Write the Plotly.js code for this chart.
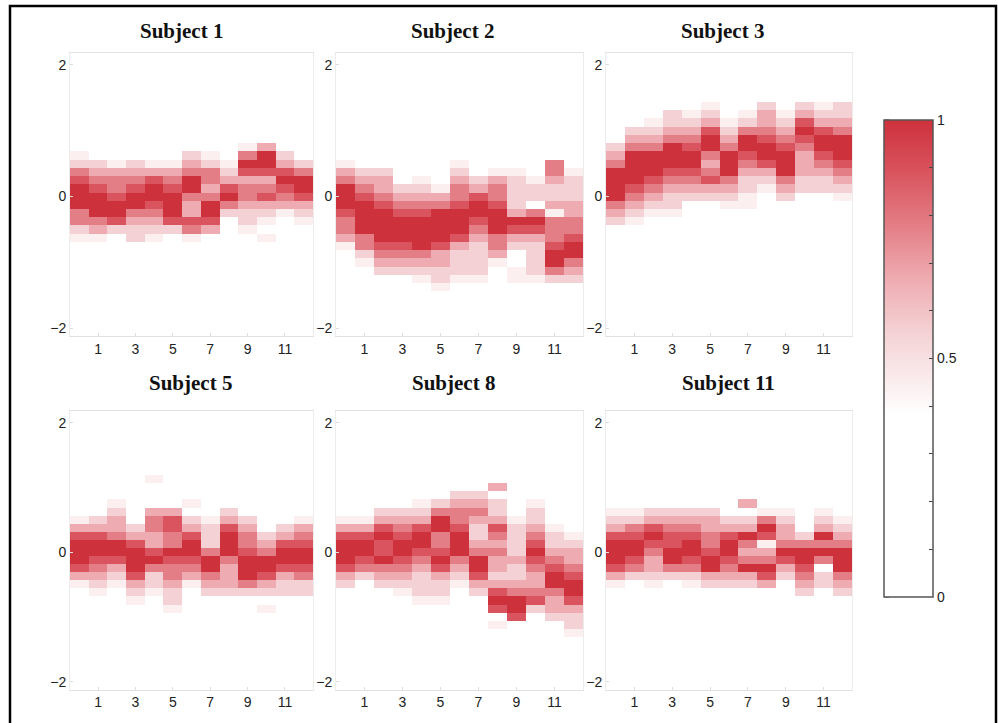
<!DOCTYPE html>
<html>
<head>
<meta charset="utf-8">
<script src="https://cdn.plot.ly/plotly-3.0.1.min.js"></script>
<style>
  html, body { margin: 0; padding: 0; background: #fff; }
  #chart { width: 998px; height: 723px; }
</style>
</head>
<body>
<div id="chart"></div>
<script>
// ---------- DATA ----------
const xCols = [0, 1, 2, 3, 4, 5, 6, 7, 8, 9, 10, 11, 12];
const yBins = [-1.5, -1.375, -1.25, -1.125, -1, -0.875, -0.75, -0.625, -0.5, -0.375, -0.25, -0.125,
               0, 0.125, 0.25, 0.375, 0.5, 0.625, 0.75, 0.875, 1, 1.125, 1.25, 1.375, 1.5];
const xTickVals = [1, 3, 5, 7, 9, 11];
const yTickVals = [-2, 0, 2];
const cbTickVals = [0, 0.1, 0.2, 0.3, 0.4, 0.5, 0.6, 0.7, 0.8, 0.9, 1];
const cbTickText = ['0', '', '', '', '', '0.5', '', '', '', '', '1'];
const titles = ['Subject 1', 'Subject 2', 'Subject 3', 'Subject 5', 'Subject 8', 'Subject 11'];

// Each column: [first row counted from the top (y = 1.5), intensity digits top->bottom, value = digit/9]
const subject1 = [
  [7, '45789997754'], [8, '5678999764'], [8, '467789985'], [8, '5678997655'],
  [8, '4689987654'], [8, '467899985'], [7, '56799766874'], [7, '4577679986'],
  [8, '4568975'], [6, '47986776554'], [6, '699867865404'], [7, '56898764'],
  [8, '57998654']
];
const subject2 = [
  [8, '46799987764'], [9, '567899997754'], [9, '5667899998765'], [11, '56789998765'],
  [10, '4567899997654'], [11, '4679999866554'], [8, '456778999865554'], [10, '5689987655554'],
  [9, '467789997764'], [9, '45555698650044'], [10, '4553798655554'], [8, '776556477789975'],
  [9, '45556677899765']
];
const subject3 = [
  [6, '5679999765'], [4, '567999987654'], [3, '456799987654'], [2, '5567999876554'],
  [2, '45678998765'], [1, '456899767865'], [3, '45679997654'], [2, '457998765544'],
  [1, '56678998654'], [2, '45678999765'], [1, '56898766655'], [1, '45689987655'],
  [1, '556799987654']
];
const subject5 = [
  [8, '468999864'], [8, '5689987654'], [6, '45667998654'], [9, '5689998654'],
  [3, '400067766897554'], [7, '6887798776554'], [6, '40568998764'], [8, '4555799765'],
  [7, '56899976665'], [8, '5677899975'], [10, '5679986504'], [9, '568998655'],
  [8, '4678998755']
];
const subject8 = [
  [8, '468999865'], [8, '46899875'], [7, '5689889765'], [7, '56789987654'],
  [6, '4568998765554'], [6, '5799778986554'], [5, '567789997654'], [5, '5676556799865'],
  [4, '635568767665689804'], [8, '4555565567998'], [6, '45567898766785'], [9, '455678997665'],
  [10, '4566789986554']
];
const subject11 = [
  [7, '4568999864'], [7, '457899875'], [7, '5689876654'], [7, '567889975'],
  [7, '5678998754'], [7, '5667789965'], [8, '568998765'], [6, '60569767965'],
  [7, '4798467986'], [7, '456679865'], [10, '57998765'], [7, '4569797355'],
  [8, '4567999765']
];
const subjects = [subject1, subject2, subject3, subject5, subject8, subject11];

// ---------- BUILD ----------
function buildZ(cols) {
  const z = yBins.map(() => xCols.map(() => 0));
  cols.forEach(([start, digits], c) => {
    for (let k = 0; k < digits.length; k++) {
      const r = start + k;
      const i = yBins.length - 1 - r;
      if (i >= 0) z[i][c] = Number(digits[k]) / 9;
    }
  });
  return z;
}

const W = 998, H = 723;
const px = v => v / W;
const py = v => 1 - v / H;

const colDomains = [[px(70), px(313)], [px(336), px(583)], [px(606), px(852)]];
const rowDomains = [[py(336), py(53)], [py(689.5), py(411)]];
const titlePos = [[181, 31], [452, 31], [722, 31], [190, 383], [453, 383], [728, 383]];

const tickFont = { family: 'Liberation Sans, Arial, sans-serif', size: 14, color: '#222' };

const traces = [];
const layout = {
  width: W, height: H,
  margin: { l: 0, r: 0, t: 0, b: 0 },
  paper_bgcolor: '#fff', plot_bgcolor: '#fff',
  showlegend: false,
  annotations: [], shapes: [],
  coloraxis: {
    cmin: 0, cmax: 1,
    colorscale: [
      [0, '#ffffff'], [0.38, '#ffffff'], [0.44, '#fbf0f1'], [0.5, '#f7e0e2'],
      [0.56, '#f4d0d3'], [0.67, '#eeaab0'], [0.78, '#e47d85'], [0.89, '#d9545e'], [1, '#cd313c']
    ],
    colorbar: {
      x: px(884), xanchor: 'left', xref: 'paper',
      y: py(120), yanchor: 'top', yref: 'paper',
      len: (597 - 120) / H, lenmode: 'fraction',
      thickness: 49, thicknessmode: 'pixels',
      xpad: 0, ypad: 0,
      outlinewidth: 1.5, outlinecolor: '#555',
      borderwidth: 0,
      tickmode: 'array', tickvals: cbTickVals, ticktext: cbTickText,
      ticks: 'inside', ticklen: 4, tickcolor: '#444', tickwidth: 1,
      tickfont: tickFont
    }
  }
};

subjects.forEach((cols, idx) => {
  const n = idx + 1;
  const xa = 'x' + (n === 1 ? '' : n);
  const ya = 'y' + (n === 1 ? '' : n);
  traces.push({
    type: 'heatmap',
    x: xCols, y: yBins, z: buildZ(cols),
    coloraxis: 'coloraxis',
    zsmooth: false,
    hoverinfo: 'skip',
    xaxis: xa, yaxis: ya
  });
  const row = idx < 3 ? 0 : 1;
  const col = idx % 3;
  layout['xaxis' + (n === 1 ? '' : n)] = {
    domain: colDomains[col], anchor: ya,
    range: [-0.5, 12.5], tickmode: 'array', tickvals: xTickVals,
    ticks: 'inside', ticklen: 3, tickcolor: '#dcdcdc',
    showline: true, mirror: true, linecolor: '#e2e2e2', linewidth: 1,
    showgrid: false, zeroline: false, tickfont: tickFont, fixedrange: true
  };
  layout['yaxis' + (n === 1 ? '' : n)] = {
    domain: rowDomains[row], anchor: xa,
    range: [-2.12, 2.18], tickmode: 'array', tickvals: yTickVals,
    ticks: 'inside', ticklen: 3, tickcolor: '#dcdcdc',
    showline: true, mirror: true, linecolor: '#ececec', linewidth: 1,
    showgrid: false, zeroline: false, tickfont: tickFont, fixedrange: true
  };
  layout.annotations.push({
    text: '<b>' + titles[idx] + '</b>',
    xref: 'paper', yref: 'paper',
    x: px(titlePos[idx][0]), y: py(titlePos[idx][1]),
    xanchor: 'center', yanchor: 'middle', showarrow: false,
    font: { family: 'Liberation Serif, Times New Roman, serif', size: 21, color: '#111' }
  });
});

// colorbar ticks on the left inner side
cbTickVals.forEach(v => {
  const yy = py(597 - v * 477);
  layout.shapes.push({
    type: 'line', xref: 'paper', yref: 'paper',
    x0: px(885), x1: px(889), y0: yy, y1: yy,
    line: { color: '#444', width: 1 }
  });
});

// outer frame
layout.shapes.push({
  type: 'rect', xref: 'paper', yref: 'paper',
  x0: px(10), x1: px(996), y0: -0.05, y1: py(6),
  line: { color: '#000', width: 2.5 }, fillcolor: 'rgba(0,0,0,0)'
});

Plotly.newPlot('chart', traces, layout, { displayModeBar: false, staticPlot: true });
</script>
</body>
</html>
